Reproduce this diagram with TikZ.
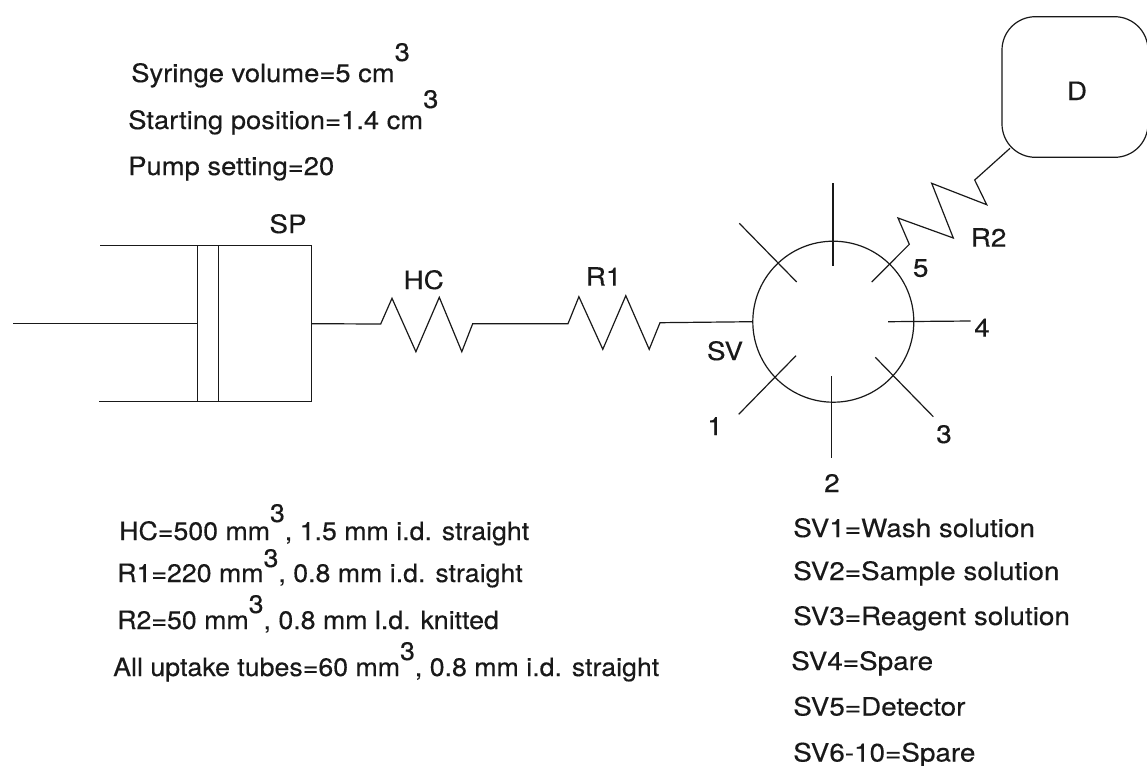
\documentclass[tikz,border=0pt]{standalone}
\usepackage{fontspec}
\setmainfont[FakeStretch=1.1,FakeBold=0.3]{TeX Gyre Heros}
\newfontfamily\topfam[FakeStretch=1.08,FakeBold=0.3]{TeX Gyre Heros}
\newfontfamily\lowfam[FakeStretch=1.055,FakeBold=0.3]{TeX Gyre Heros}
\tikzset{
  px/.style={x=0.75pt,y=-0.75pt},
  wire/.style={draw=black!90,line width=0.9pt},
  lab/.style={inner sep=0pt,anchor=base west,font=\fontsize{19}{22}\selectfont,text=black!90},
  toplab/.style={lab,font=\topfam\fontsize{19}{22}\selectfont},
  lowlab/.style={lab,font=\lowfam\fontsize{19}{22}\selectfont},
  mid/.style={inner sep=0pt,anchor=base,font=\fontsize{19}{22}\selectfont,text=black!90},
}
\newcommand{\cubed}[1]{\raisebox{#1}{3}}
\begin{document}
\begin{tikzpicture}[px]
\useasboundingbox (0,0) rectangle (1147,765);
\fill[white] (0,0) rectangle (1147,765);
\clip (0,0) rectangle (1147,765);
% syringe
\coordinate (rodL) at (13,323.7);
\coordinate (pistL) at (197.3,323.7);
\coordinate (barR) at (311.5,323.7);
\coordinate (tl) at (100,245.7);
\coordinate (tr) at (311.5,245.7);
\coordinate (bl) at (98.5,401.7);
\coordinate (br) at (311.5,401.7);
\coordinate (p1t) at (197.3,245.7);
\coordinate (p1b) at (197.3,401.7);
\coordinate (p2t) at (218.6,245.7);
\coordinate (p2b) at (218.6,401.7);
\draw[wire] (tl) -- (tr) -- (br) -- (bl);
\draw[wire] (p1t) -- (p1b);
\draw[wire] (p2t) -- (p2b);
\draw[wire] (rodL) -- (pistL);
% valve
\node[wire,circle,minimum size=161pt*0.75,inner sep=0pt] (SV) at (833.3,321.7) {};
% HC, R1
\coordinate (hcA) at (380.7,324);
\coordinate (hcB) at (472.7,323.7);
\coordinate (roA) at (568,323.7);
\coordinate (roB) at (660,322.7);
\draw[wire] (barR) -- (hcA) -- (392,298.3) -- (415.9,351.7) -- (439.3,297.3) -- (461.8,351.7) -- (hcB)
  -- (roA) -- (578.9,296.7) -- (602.8,349.3) -- (625.8,295.7) -- (649.2,349.3) -- (roB) -- (SV.west);
% spokes
\draw[wire] (833,183) -- (833,266);
\draw[wire] (739.3,223.3) -- (796.7,282);
\draw[wire] (888,321.7) -- (970.7,321);
\draw[wire] (875.3,357.3) -- (933.3,416.7);
\draw[wire] (831.7,376) -- (831.7,458.3);
\draw[wire] (796,355.7) -- (738.7,414.3);
% detector
\node[wire,rounded corners=25pt,minimum width=146pt*0.75,minimum height=140.6pt*0.75,inner sep=0pt] (D) at (1075,87) {};
\node[mid] (Dt) at (1077,100) {D};
\coordinate (dIn) at (1010,148.3);
\draw[wire] (871.7,282) -- (909.3,244.3) -- (898,218) -- (953.3,238) -- (931.7,183.3) -- (986.7,204.7) -- (974.7,180) -- (dIn);
% diagram labels
\node[mid] (tSP) at (288,233) {SP};
\node[mid] (tHC) at (423.7,289) {HC};
\node[mid] (tR1) at (603.6,285.7) {R1};
\node[mid] (tR2) at (988.6,246.7) {R2};
\node[mid] (tSV) at (725,360) {SV};
\node[mid] (t1) at (715,435) {1};
\node[mid] (t2) at (832,492) {2};
\node[mid] (t3) at (944,443) {3};
\node[mid] (t4) at (982,336.7) {4};
\node[mid] (t5) at (920.7,276.7) {5};
% notes
\node[toplab] (n1) at (131,82) {Syringe volume=5 cm\cubed{15.75pt}};
\node[toplab] (n2) at (128,129) {Starting position=1.4 cm\cubed{15.75pt}};
\node[toplab] (n3) at (128,175) {Pump setting=20};
\node[lowlab] (n4) at (119,540) {HC=500 mm\cubed{13.5pt}, 1.5 mm i.d. straight};
\node[lowlab] (n5) at (117,582) {R1=220 mm\cubed{11.25pt}, 0.8 mm i.d. straight};
\node[lowlab] (n6) at (117,629) {R2=50 mm\cubed{12pt}, 0.8 mm l.d. knitted};
\node[lowlab] (n7) at (113,676) {All uptake tubes=60 mm\cubed{12pt}, 0.8 mm i.d. straight};
\node[lab] (s1) at (793,537) {SV1=Wash solution};
\node[lab] (s2) at (793,580) {SV2=Sample solution};
\node[lab] (s3) at (793,625) {SV3=Reagent solution};
\node[lab] (s4) at (791,670) {SV4=Spare};
\node[lab] (s5) at (793,715.5) {SV5=Detector};
\node[lab] (s6) at (793,761.5) {SV6-10=Spare};
\end{tikzpicture}
\end{document}
